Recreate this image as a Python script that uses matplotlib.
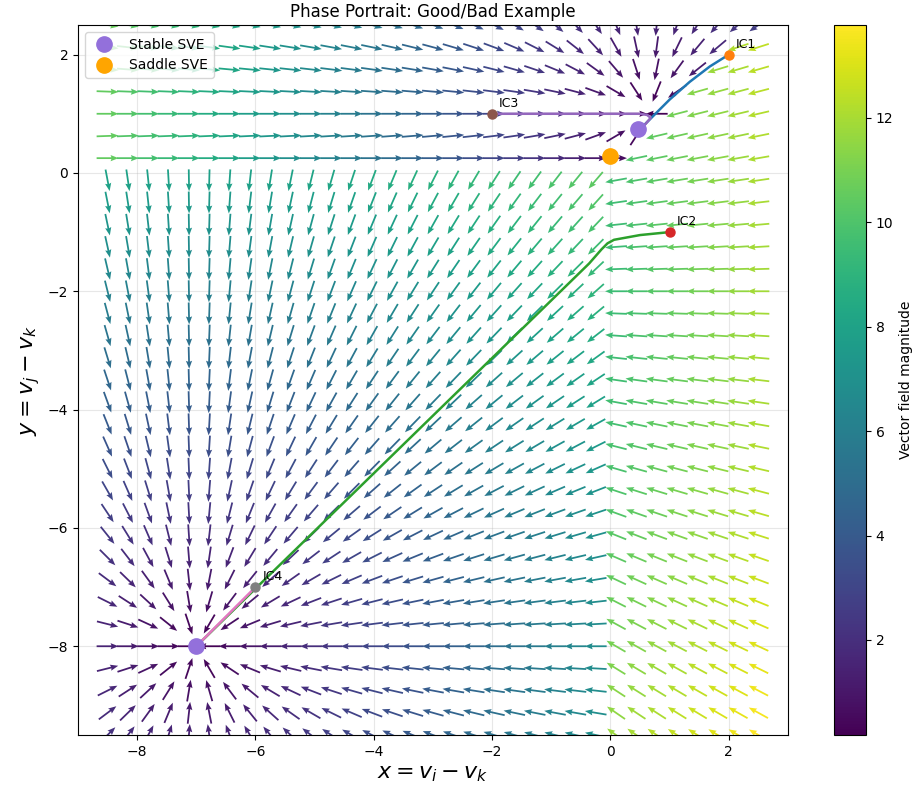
import numpy as np
import matplotlib
matplotlib.use("Agg")
import matplotlib.pyplot as plt

# equilibria
stable_x = [0.46, -7.0]
stable_y = [0.74, -8.0]
saddle_x = [0.0]
saddle_y = [0.29]

# initial conditions
ic_names = ["IC1", "IC2", "IC3", "IC4"]
ic_x = [2.0, 1.0, -2.0, -6.0]
ic_y = [2.0, -1.0, 1.0, -7.0]

# trajectories
traj1_x = [2.0, 1.68, 1.34, 1.0, 0.71, 0.54, 0.46]
traj1_y = [2.0, 1.80, 1.54, 1.24, 0.95, 0.78, 0.74]
traj2_x = [1.0, 0.5, 0.06, -0.05, -0.15, -0.36, -7.0]
traj2_y = [-1.0, -1.05, -1.13, -1.19, -1.29, -1.53, -8.0]
traj3_x = [-2.0, 0.5, 0.62, 0.68, 0.56, 0.46]
traj3_y = [1.0, 1.0, 0.98, 0.93, 0.79, 0.74]
traj4_x = [-6.0, -7.0]
traj4_y = [-7.0, -8.0]

sink_k = (-7.0, -8.0)     # x<0, y<0
sink_i = (-9.4, -2.0)     # x>0, y<x
sink_j = (0.65, 1.0)      # y>0, y>x
rate_i_y = 0.92
rate_j_x = 1.15
band_top = 0.45           # rows below this in the j-region run flat

# colour range of the colorbar
mag_min, mag_max = 0.18, 13.78

gx = np.linspace(-8.5, 2.5, 33)
gy = np.linspace(-9.5, 2.5, 33)
X, Y = np.meshgrid(gx, gy)

U = np.zeros_like(X)
V = np.zeros_like(Y)

reg_k = (X < 0) & (Y < 0)
reg_i = (X >= 0) & (Y < X)
reg_j = ~reg_k & ~reg_i

U[reg_k] = -(X[reg_k] - sink_k[0])
V[reg_k] = -(Y[reg_k] - sink_k[1])
U[reg_i] = -(X[reg_i] - sink_i[0])
V[reg_i] = -rate_i_y * (Y[reg_i] - sink_i[1])
U[reg_j] = -rate_j_x * (X[reg_j] - sink_j[0])
V[reg_j] = np.where(Y[reg_j] > band_top, -(Y[reg_j] - sink_j[1]), 0.0)

M = np.hypot(U, V)
M_safe = np.where(M == 0, 1, M)

fig = plt.figure(figsize=(9.23, 7.97), dpi=100)
ax = fig.add_axes([0.0845, 0.0778, 0.7692, 0.8908])
cax = fig.add_axes([0.9036, 0.0778, 0.0347, 0.8908])

ax.grid(True, alpha=0.3, zorder=0)
q = ax.quiver(X, Y, U / M_safe, V / M_safe, M, cmap="viridis",
              pivot="mid", angles="xy", scale_units="xy", scale=2.7,
              width=0.0025, headwidth=3.5, headlength=4.5,
              headaxislength=4, zorder=2)
q.set_clim(mag_min, mag_max)

trajs = [(traj1_x, traj1_y), (traj2_x, traj2_y),
         (traj3_x, traj3_y), (traj4_x, traj4_y)]
line_colors = ["tab:blue", "tab:green", "tab:purple", "tab:pink"]
dot_colors = ["tab:orange", "tab:red", "tab:brown", "tab:gray"]
for i, (tx, ty) in enumerate(trajs):
    ax.plot(tx, ty, color=line_colors[i], lw=1.8, zorder=3)
    ax.plot(ic_x[i], ic_y[i], "o", color=dot_colors[i], ms=6.5, zorder=4)
    ax.annotate(ic_names[i], (ic_x[i], ic_y[i]), xytext=(5, 5),
                textcoords="offset points", fontsize=9)

ax.plot(stable_x, stable_y, "o", color="mediumpurple", ms=11,
        linestyle="none", label="Stable SVE", zorder=5)
ax.plot(saddle_x, saddle_y, "o", color="orange", ms=11,
        linestyle="none", label="Saddle SVE", zorder=5)

ax.set_xlim(-9, 3)
ax.set_ylim(-9.5, 2.5)
ax.set_xticks([-8, -6, -4, -2, 0, 2])
ax.set_yticks([-8, -6, -4, -2, 0, 2])
ax.set_xlabel(r"$x = v_i - v_k$", fontsize=16)
ax.set_ylabel(r"$y = v_j - v_k$", fontsize=16)
ax.set_title("Phase Portrait: Good/Bad Example", fontsize=12)
ax.legend(loc="upper left", fontsize=10)

cb = fig.colorbar(q, cax=cax)
cb.set_label("Vector field magnitude", fontsize=10)

fig.savefig("out.png", dpi=100)
